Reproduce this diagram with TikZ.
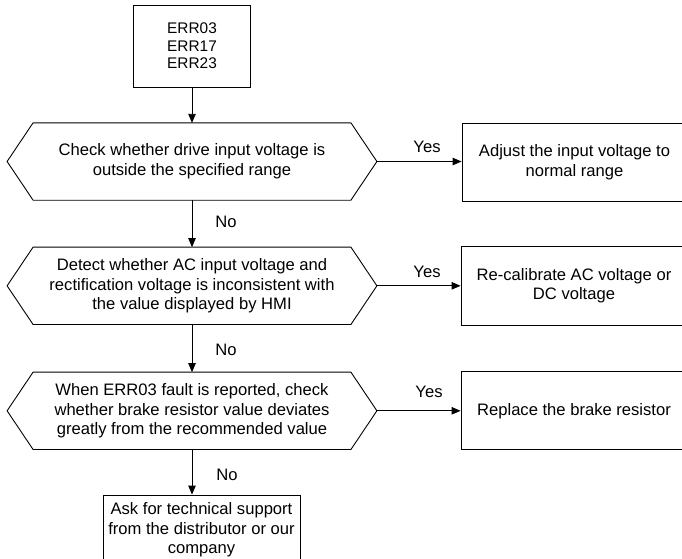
\documentclass[tikz,border=0pt]{standalone}
\usepackage{fontspec}
\setmainfont{Liberation Sans}
\usetikzlibrary{arrows.meta}
\begin{document}
\begin{tikzpicture}[x=1pt,y=-1pt,
  font=\fontsize{16.6}{19.6}\selectfont,
  box/.style={draw, line width=0.9pt, inner sep=0pt, align=center},
  hexbox/.style={inner sep=0pt, align=center, minimum width=369.4pt, minimum height=77pt},
  hexline/.style={line width=0.9pt, line join=miter},
  arr/.style={line width=0.9pt, -{Triangle[length=9pt,width=7.5pt]}},
  lbl/.style={inner sep=0pt}]
\useasboundingbox (0,0) rectangle (682,558);

% start box
\node[box, minimum width=117pt, minimum height=82pt, font=\fontsize{15.4}{17.6}\selectfont] (err) at (192,46) {ERR03\\ERR17\\ERR23};

% decision hexagons
\node[hexbox] (h1) at (192,161.5) {Check whether drive input voltage is\\outside the specified range};
\node[hexbox] (h2) at (192,285.8) {Detect whether AC input voltage and\\rectification voltage is inconsistent with\\the value displayed by HMI};
\node[hexbox] (h3) at (192,410.8) {When ERR03 fault is reported, check\\whether brake resistor value deviates\\greatly from the recommended value};
\foreach \h in {h1,h2,h3}
  \draw[hexline] (\h.west) -- ([xshift=26pt]\h.north west) -- ([xshift=-26pt]\h.north east)
    -- (\h.east) -- ([xshift=-26pt]\h.south east) -- ([xshift=26pt]\h.south west) -- cycle;

% action boxes
\node[box, minimum width=225pt, minimum height=78pt] (b1) at (574.5,162) {Adjust the input voltage to\\normal range};
\node[box, minimum width=226pt, minimum height=79pt] (b2) at (574,285.5) {Re-calibrate AC voltage or\\DC voltage};
\node[box, minimum width=226pt, minimum height=78pt] (b3) at (574,410.8) {Replace the brake resistor};
\node[box, minimum width=197pt, minimum height=70pt] (fin) at (201.5,530) {Ask for technical support\\from the distributor or our\\company};

% connectors
\draw[arr] (err.south) -- (h1.north);
\draw[arr] (h1.south) -- (h2.north);
\draw[arr] (h2.south) -- (h3.north);
\draw[arr] (h3.south) -- (h3.south |- fin.north);
\draw[arr] (h1.east) -- (h1.east -| b1.west);
\draw[arr] (h2.east) -- (h2.east -| b2.west);
\draw[arr] (h3.east) -- (h3.east -| b3.west);

% labels
\node[lbl] (y1) at (427,147) {Yes};
\node[lbl] (y2) at (427,272) {Yes};
\node[lbl] (y3) at (429,392) {Yes};
\node[lbl] (n1) at (226,222) {No};
\node[lbl] (n2) at (226,350) {No};
\node[lbl] (n3) at (227,475) {No};
\end{tikzpicture}
\end{document}
